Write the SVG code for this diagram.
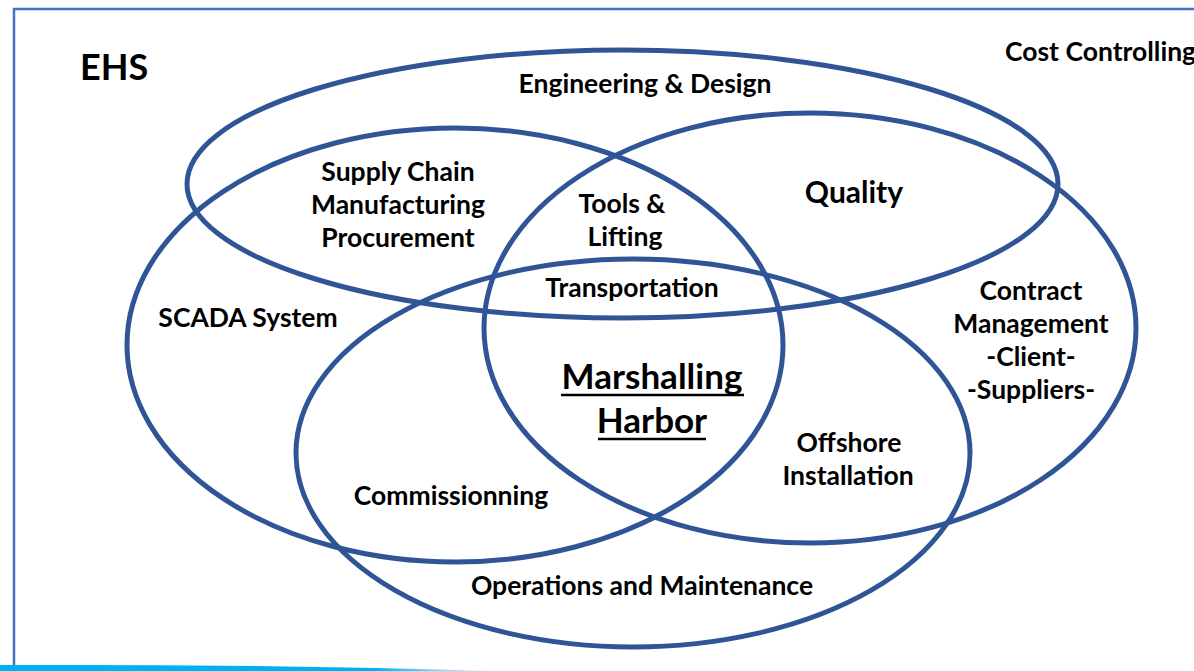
<svg xmlns="http://www.w3.org/2000/svg" width="1194" height="671" viewBox="0 0 1194 671">
  <defs>
    <linearGradient id="band" x1="0" y1="0" x2="1" y2="0">
      <stop offset="0" stop-color="#00B0F0"/>
      <stop offset="0.75" stop-color="#00B0F0"/>
      <stop offset="1" stop-color="#00B0F0" stop-opacity="0"/>
    </linearGradient>
    <style>
      .ell { fill: none; stroke: #2F5597; stroke-width: 5; }
      .t { font-family: Lato, "Liberation Sans", sans-serif; font-weight: bold; fill: #000; text-anchor: middle; font-size: 26.5px; }
      .ul { stroke: #000; stroke-width: 2.5; }
    </style>
  </defs>
  <rect x="0" y="0" width="1194" height="671" fill="#fff"/>
  <g id="frame">
    <path d="M14 671 V9 H1194" fill="none" stroke="#4472C4" stroke-width="2.5"/>
    <path d="M0 665 Q250 664 500 671 L0 671 Z" fill="url(#band)"/>
  </g>
  <g id="connectors">
    <ellipse id="ell-engineering" class="ell" cx="622.5" cy="184" rx="435.5" ry="134"/>
    <ellipse id="ell-left" class="ell" cx="455" cy="345" rx="328" ry="217"/>
    <ellipse id="ell-right" class="ell" cx="810" cy="328" rx="326" ry="215"/>
    <ellipse id="ell-bottom" class="ell" cx="633" cy="453" rx="337" ry="194"/>
  </g>
  <g id="ehs"><text class="t" x="80" y="80" style="text-anchor:start;font-size:36px">EHS</text></g>
  <g id="cost"><text class="t" x="1005" y="61" style="text-anchor:start">Cost Controlling</text></g>
  <g id="engineering"><text class="t" x="645" y="93">Engineering &amp; Design</text></g>
  <g id="supply"><text class="t" x="398" y="181">Supply Chain</text><text class="t" x="398" y="214">Manufacturing</text><text class="t" x="398" y="247">Procurement</text></g>
  <g id="tools"><text class="t" x="622" y="213">Tools &amp;</text><text class="t" x="625" y="246">Lifting</text></g>
  <g id="quality"><text class="t" x="854" y="203" style="font-size:30px">Quality</text></g>
  <g id="transportation"><text class="t" x="632" y="297">Transportation</text></g>
  <g id="scada"><text class="t" x="248" y="327">SCADA System</text></g>
  <g id="contract"><text class="t" x="1031" y="300">Contract</text><text class="t" x="1031" y="333">Management</text><text class="t" x="1031" y="366">-Client-</text><text class="t" x="1031" y="399">-Suppliers-</text></g>
  <g id="marshalling">
    <text class="t" x="652" y="389" style="font-size:35px">Marshalling</text>
    <text class="t" x="652" y="433" style="font-size:35px">Harbor</text>
    <line class="ul" x1="561" y1="395" x2="744" y2="395"/>
    <line class="ul" x1="598" y1="439" x2="706" y2="439"/>
  </g>
  <g id="offshore"><text class="t" x="849" y="452">Offshore</text><text class="t" x="848" y="485">Installation</text></g>
  <g id="commissioning"><text class="t" x="451" y="505">Commissionning</text></g>
  <g id="operations"><text class="t" x="642" y="595">Operations and Maintenance</text></g>
</svg>
